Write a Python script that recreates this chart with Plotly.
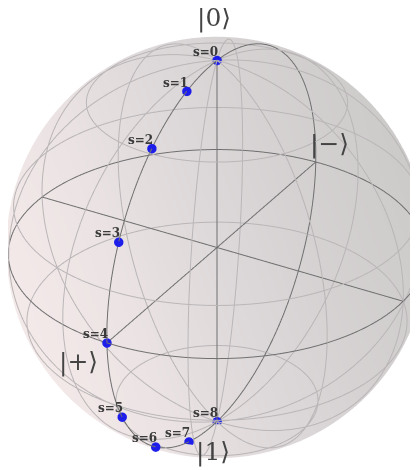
import numpy as np
import plotly.graph_objects as go

# ---------------- data ----------------
step_labels = ["s=0", "s=1", "s=2", "s=3", "s=4", "s=5", "s=6", "s=7", "s=8"]
polar_deg = [0, 16, 36, 62, 90, 118, 144, 164, 180]      # Bloch polar angle of each state
azimuth_deg = [0, 0, 0, 0, 0, 0, 0, 0, 0]               # all in the x-z plane, +x side

state_labels = ["|0⟩", "|1⟩", "|+⟩", "|−⟩"]
state_dirs = [(0, 0, 1), (0, 0, -1), (1, 0, 0), (-1, 0, 0)]
state_label_radius = [1.22, 1.18, 1.24, 1.17]
state_label_shift = [(-3, 0), (-4, 0), (0, 6), (-2, 5)]

meridian_deg = [-90, -52.5, -15, 22.5, 60, 90, 127.5, 165, 202.5, 240]
parallel_polar_deg = [37.5, 75, 112.5, 150]

# ---------------- view ----------------
elev, azim = np.radians(30), np.radians(30)
D = np.array([np.cos(elev) * np.cos(azim), np.cos(elev) * np.sin(azim), np.sin(elev)])
RT = np.array([-np.sin(azim), np.cos(azim), 0.0])
UP = np.cross(RT, D)
RANGE = 1.4
ZOOM = 2.53
CAM_DIST = 13.8  # mild perspective, emulated on the orthographic view


def persp(x, y, z):
    """Mild perspective warp toward the viewer (keeps depth unchanged)."""
    P = np.stack([np.asarray(x, float), np.asarray(y, float), np.asarray(z, float)], axis=-1)
    depth = P @ D
    f = CAM_DIST / (CAM_DIST - depth)
    P2 = depth[..., None] * D + (P - depth[..., None] * D) * f[..., None]
    return P2[..., 0], P2[..., 1], P2[..., 2]


fig = go.Figure()

# backdrop hemisphere (far half of the sphere), shaded in screen space
v = np.linspace(0, np.pi / 2, 40)
w = np.linspace(0, 2 * np.pi, 120)
V, W = np.meshgrid(v, w)
R0 = 1.012
P = (-np.cos(V)[..., None] * D + np.sin(V)[..., None] * (np.cos(W)[..., None] * RT + np.sin(W)[..., None] * UP)) * R0
sx = np.sin(V) * np.cos(W)
sy = np.sin(V) * np.sin(W)
shade = -sx + 0.35 * sy
bx, by, bz = persp(P[..., 0], P[..., 1], P[..., 2])
fig.add_trace(go.Surface(
    x=bx, y=by, z=bz, surfacecolor=shade,
    cmin=-1.3, cmax=1.3, showscale=False, hoverinfo="skip",
    colorscale=[[0.0, "rgb(200,197,197)"], [0.15, "rgb(207,204,204)"],
                [0.5, "rgb(221,216,217)"], [0.7, "rgb(234,226,227)"],
                [0.9, "rgb(244,233,233)"], [1.0, "rgb(246,236,236)"]],
    lighting=dict(ambient=1, diffuse=0, specular=0, roughness=1, fresnel=0),
))


def add_seg(xs, ys, zs, a, b, c):
    a, b, c = persp(a, b, c)
    xs.extend(list(a) + [None]); ys.extend(list(b) + [None]); zs.extend(list(c) + [None])


# light wireframe
lx, ly, lz = [], [], []
t = np.linspace(0, np.pi, 60)
for m in meridian_deg:
    p = np.radians(m)
    add_seg(lx, ly, lz, np.sin(t) * np.cos(p), np.sin(t) * np.sin(p), np.cos(t))
u = np.linspace(0, 2 * np.pi, 120)
for q in parallel_polar_deg:
    q = np.radians(q)
    add_seg(lx, ly, lz, np.sin(q) * np.cos(u), np.sin(q) * np.sin(u), np.full_like(u, np.cos(q)))
fig.add_trace(go.Scatter3d(x=lx, y=ly, z=lz, mode="lines", hoverinfo="skip",
                           line=dict(color="rgb(186,182,183)", width=2), showlegend=False))

# dark frame: equator, x-z great circle, axes
dx, dy, dz = [], [], []
add_seg(dx, dy, dz, np.cos(u), np.sin(u), np.zeros_like(u))
add_seg(dx, dy, dz, np.cos(u), np.zeros_like(u), np.sin(u))
for ax in np.eye(3):
    s = np.linspace(-1, 1, 2)
    add_seg(dx, dy, dz, s * ax[0], s * ax[1], s * ax[2])
fig.add_trace(go.Scatter3d(x=dx, y=dy, z=dz, mode="lines", hoverinfo="skip",
                           line=dict(color="rgb(112,112,112)", width=2), showlegend=False))

# states
th = np.radians(polar_deg)
ph = np.radians(azimuth_deg)
px, py, pz = persp(np.sin(th) * np.cos(ph), np.sin(th) * np.sin(ph), np.cos(th))
fig.add_trace(go.Scatter3d(x=px, y=py, z=pz, mode="markers", hoverinfo="skip",
                           marker=dict(size=5.5, color="rgb(30,30,235)", line=dict(width=0)),
                           showlegend=False))

ann = []
for lab, X, Y, Z in zip(step_labels, px, py, pz):
    ann.append(dict(x=X, y=Y, z=Z, text="<b>" + lab + "</b>", showarrow=False,
                    xanchor="right", yanchor="bottom", xshift=3, yshift=0,
                    font=dict(family="DejaVu Serif", size=12, color="#3a3a3a")))
for lab, d, r, sh in zip(state_labels, state_dirs, state_label_radius, state_label_shift):
    X, Y, Z = persp(d[0] * r, d[1] * r, d[2] * r)
    ann.append(dict(x=float(X), y=float(Y), z=float(Z), text=lab, showarrow=False,
                    xanchor="center", yanchor="middle", xshift=sh[0], yshift=sh[1],
                    font=dict(family="DejaVu Serif", size=25, color="#444444")))

axis = dict(visible=False, range=[-RANGE, RANGE], showspikes=False)
fig.update_layout(
    width=418, height=470, margin=dict(l=0, r=0, t=0, b=0),
    paper_bgcolor="white", plot_bgcolor="white", showlegend=False,
    scene=dict(
        xaxis=axis, yaxis=axis, zaxis=axis, aspectmode="manual",
        aspectratio=dict(x=ZOOM, y=ZOOM, z=ZOOM),
        domain=dict(x=[0, 1], y=[0, 0.98]),
        camera=dict(eye=dict(x=D[0], y=D[1], z=D[2]),
                    up=dict(x=0, y=0, z=1), center=dict(x=0, y=0, z=0),
                    projection=dict(type="orthographic")),
        annotations=ann,
    ),
)
fig.write_html("out.html", config={"displayModeBar": False})
